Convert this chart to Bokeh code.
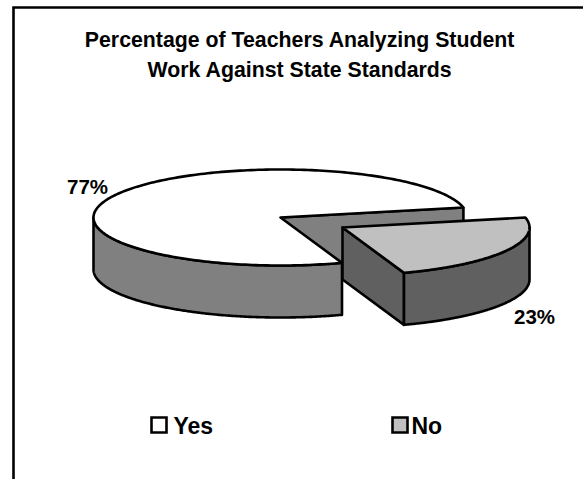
import numpy as np
from bokeh.core.properties import value
from bokeh.embed import file_html
from bokeh.models import Range1d
from bokeh.plotting import figure
from bokeh.resources import INLINE

# Survey result shown as an exploded 3D pie
title_lines = ["Percentage of Teachers Analyzing Student", "Work Against State Standards"]
categories = ["Yes", "No"]
percentages = [77, 23]

W, H = 583, 479
FONT = value("Liberation Sans")
EDGE = "#000000"
TOP_COLORS = ["#ffffff", "#c0c0c0"]
BIG_WALL = "#808080"
SLICE_WALL = "#606060"
LW = 2.6

# Projection of the pie: ellipse radii, extrusion depth, centre, explode offset
RX, RY, DEPTH = 187.0, 48.0, 52.0
CX, CY = 280.0, 217.0
DX, DY = 62.0, 10.0
START_DEG = 12.0


def rim(a0, a1, cx, cy, drop=0.0):
    """Points along the elliptical rim between two angles, in degrees."""
    t = np.radians(np.linspace(a0, a1, 240))
    return cx + RX * np.cos(t), cy - RY * np.sin(t) + drop


p = figure(width=W, height=H, x_range=Range1d(0, W), y_range=Range1d(H, 0),
           toolbar_location=None, output_backend="svg", min_border=0,
           outline_line_color=None, background_fill_color="white")
p.axis.visible = False
p.grid.visible = False

# Sweep of each category, running counter-clockwise from the start angle
yes_sweep = 360.0 * percentages[0] / sum(percentages)
yes_a0, yes_a1 = START_DEG, START_DEG + yes_sweep
no_a0, no_a1 = yes_a1, START_DEG + 360.0

# Cut face of the large slice, seen through the gap
ex0, ey0 = rim(yes_a0, yes_a0, CX, CY)
p.patch([CX, ex0[0], ex0[0], CX], [CY, ey0[0], ey0[0] + DEPTH, CY + DEPTH],
        fill_color=BIG_WALL, line_color=EDGE, line_width=LW)

# Large slice: outer wall of the visible front part, then the top face
xt, yt = rim(180.0, yes_a1, CX, CY)
xb, yb = rim(yes_a1, 180.0, CX, CY, DEPTH)
p.patch(np.r_[xt, xb], np.r_[yt, yb], fill_color=BIG_WALL, line_color=EDGE,
        line_width=LW, line_join="round")
xa, ya = rim(yes_a0, yes_a1, CX, CY)
p.patch(np.r_[CX, xa], np.r_[CY, ya], fill_color=TOP_COLORS[0], line_color=EDGE,
        line_width=LW, line_join="round")

# Exploded slice: cut wall, outer wall, top face
sx, sy = CX + DX, CY + DY
cx1, cy1 = rim(no_a0, no_a0, sx, sy)
p.patch([sx, cx1[0], cx1[0], sx], [sy, cy1[0], cy1[0] + DEPTH, sy + DEPTH],
        fill_color=SLICE_WALL, line_color=EDGE, line_width=LW, line_join="round")
xt, yt = rim(no_a0, 360.0, sx, sy)
xb, yb = rim(360.0, no_a0, sx, sy, DEPTH)
p.patch(np.r_[xt, xb], np.r_[yt, yb], fill_color=SLICE_WALL, line_color=EDGE,
        line_width=LW, line_join="round")
xa, ya = rim(no_a0, no_a1, sx, sy)
p.patch(np.r_[sx, xa], np.r_[sy, ya], fill_color=TOP_COLORS[1], line_color=EDGE,
        line_width=LW, line_join="round")

# Percentage labels
p.text([87, 534], [186, 316], text=[f"{percentages[0]}%", f"{percentages[1]}%"],
       text_font=FONT, text_font_style="bold", text_font_size="20.5px",
       text_align="center", text_baseline="middle", text_color="#000000")

# Title
p.text([299.5, 299.5], [39, 69], text=title_lines, text_font=FONT, text_font_style="bold",
       text_font_size="21.3px", text_align="center", text_baseline="middle",
       text_color="#000000")

# Legend
p.scatter([158.5, 399.5], [424.5, 424.5], marker="square", size=15, fill_color=TOP_COLORS,
          line_color=EDGE, line_width=LW, line_join="miter")
p.text([173, 411], [425, 425], text=categories, text_font=FONT, text_font_style="bold",
       text_font_size="23px", text_align="left", text_baseline="middle",
       text_color="#000000")

# Frame rules along the top and left of the chart
p.line([13, 13, W], [H, 7, 7], line_color=EDGE, line_width=LW, line_join="miter")

open("out.html", "w").write(file_html(p, INLINE))
